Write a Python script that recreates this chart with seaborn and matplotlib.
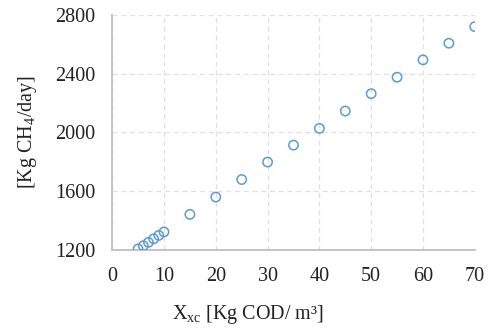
import matplotlib
matplotlib.use("Agg")
import matplotlib.pyplot as plt
import seaborn as sns
import pandas as pd

x_vals = [5, 6, 7, 8, 9, 10, 15, 20, 25, 30, 35, 40, 45, 50, 55, 60, 65, 70]
y_vals = [1208, 1230, 1253, 1277, 1300, 1324, 1443, 1561, 1680, 1799, 1914, 2028, 2146, 2264, 2376, 2494, 2607, 2720]
x_ticks = [0, 10, 20, 30, 40, 50, 60, 70]
y_ticks = [1200, 1600, 2000, 2400, 2800]

sns.set_theme(style="white")
plt.rcParams['font.family'] = ['Liberation Serif', 'DejaVu Serif']
plt.rcParams['mathtext.fontset'] = 'custom'
plt.rcParams['mathtext.rm'] = 'Liberation Serif'
plt.rcParams['mathtext.it'] = 'Liberation Serif:italic'

df = pd.DataFrame({"x": x_vals, "y": y_vals})

fig = plt.figure(figsize=(4.92, 3.30), dpi=100)
ax = fig.add_axes([0.228, 0.242, 0.737, 0.713])

sns.scatterplot(data=df, x="x", y="y", ax=ax, marker="o", s=45,
                facecolor="none", edgecolor="#5B9BD5", linewidth=1.1, zorder=3)

FS = 14.5
ax.set_xlim(0, 70)
ax.set_ylim(1200, 2800)
ax.set_xticks(x_ticks)
ax.set_yticks(y_ticks)
ax.set_xticklabels([str(v) for v in x_ticks], fontsize=FS)
ax.set_yticklabels([str(v) for v in y_ticks], fontsize=FS)
ax.tick_params(axis='both', length=0, colors="#222222")
ax.tick_params(axis='x', pad=12)
ax.tick_params(axis='y', pad=12)

ax.grid(True, color="#e0e0e0", linestyle=(0, (4, 3)), linewidth=0.9)
ax.set_axisbelow(True)
for s in ["top", "right"]:
    ax.spines[s].set_visible(False)
for s in ["left", "bottom"]:
    ax.spines[s].set_color("#bfbfbf")
    ax.spines[s].set_linewidth(1.3)

ax.set_xlabel(r"X$_\mathrm{xc}$ [Kg COD/ m³]", fontsize=FS, labelpad=12, color="#222222")
ax.xaxis.set_label_coords(0.375, -0.225)
ax.set_ylabel(r"[Kg CH$_\mathrm{4}$/day]", fontsize=FS, labelpad=12, color="#222222")

fig.savefig("out.png", dpi=100)
